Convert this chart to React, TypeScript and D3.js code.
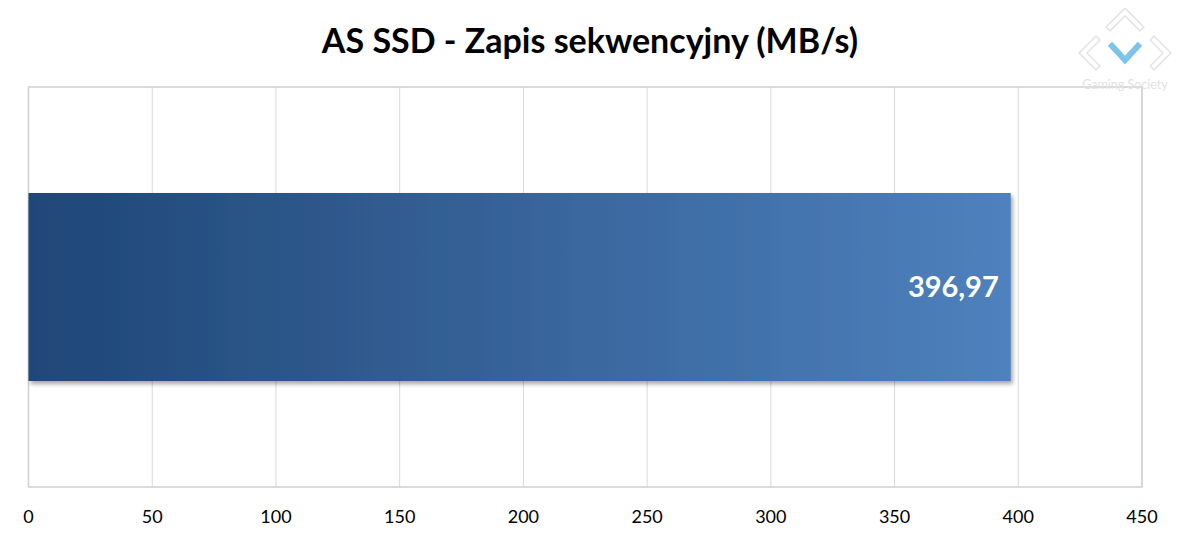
import React from 'react';
import * as d3 from 'd3';

// chart data
const title = 'AS SSD - Zapis sekwencyjny (MB/s)';
const categories = ['SSD'];
const values = [396.97];
const valueLabels = ['396,97'];
const ticks = [0, 50, 100, 150, 200, 250, 300, 350, 400, 450];

const W = 1182;
const H = 540;
const margin = { top: 87, right: 40, bottom: 53, left: 28.5 };

const App = () => {
  const x = d3.scaleLinear().domain([0, 450]).range([margin.left, W - margin.right]);
  const y = d3.scaleBand().domain(categories).range([margin.top, H - margin.bottom]).paddingInner(0.53).paddingOuter(0.265);
  const font = 'Lato, "Open Sans", sans-serif';

  // hollow chevrons in the logo: light outline, white fill
  const chevrons = [
    'M1110,27 L1125,12 L1140,27',
    'M1096,40 L1083,53 L1096,66',
    'M1154,40 L1167,53 L1154,66',
  ];

  return (
    <svg width={W} height={H} style={{ display: 'block', margin: -8 }}>
      <defs>
        <linearGradient id="barGrad" x1="0" x2="1" y1="0" y2="0">
          <stop offset="0%" stopColor="#1f4677" />
          <stop offset="100%" stopColor="#4f81bd" />
        </linearGradient>
        <filter id="shadow" x="-5%" y="-10%" width="110%" height="130%">
          <feDropShadow dx="2" dy="3" stdDeviation="2" floodColor="#000" floodOpacity="0.35" />
        </filter>
      </defs>
      <rect width={W} height={H} fill="#fff" />

      {/* title */}
      <text x={590} y={53} textAnchor="middle" fontFamily={font} fontWeight="bold" fontSize={34} fill="#000">
        {title}
      </text>

      {/* gridlines */}
      {ticks.map(t => (
        <line key={t} x1={x(t)} x2={x(t)} y1={margin.top} y2={H - margin.bottom} stroke="#d9d9d9" strokeWidth={1} />
      ))}
      {/* plot border */}
      <rect x={margin.left} y={margin.top} width={x(450) - margin.left} height={H - margin.bottom - margin.top}
        fill="none" stroke="#d0d0d0" strokeWidth={1.5} />

      {/* bars */}
      {categories.map((c, i) => (
        <g key={c}>
          <rect x={x(0)} y={y(c)} width={x(values[i]) - x(0)} height={y.bandwidth()} fill="url(#barGrad)" filter="url(#shadow)" />
          <text x={x(values[i]) - 12} y={(y(c) as number) + y.bandwidth() / 2} dy="0.35em" textAnchor="end"
            fontFamily={font} fontWeight="bold" fontSize={29} fill="#fff">
            {valueLabels[i]}
          </text>
        </g>
      ))}

      {/* x axis labels */}
      {ticks.map(t => (
        <text key={t} x={x(t)} y={523} textAnchor="middle" fontFamily={font} fontSize={18} fill="#000">
          {t}
        </text>
      ))}

      {/* logo */}
      <g fill="none" strokeLinecap="square" strokeLinejoin="miter">
        {chevrons.map(d => (
          <g key={d}>
            <path d={d} stroke="#e4e4e4" strokeWidth={7} />
            <path d={d} stroke="#ffffff" strokeWidth={4} />
          </g>
        ))}
        <path d="M1112,46 L1125,60 L1138,46" stroke="#7ec4ea" strokeWidth={6} />
        <text x={1125} y={89} textAnchor="middle" fontFamily={font} fontSize={12.5} fill="#e2e2e2" stroke="none">
          Gaming Society
        </text>
      </g>
    </svg>
  );
};

export default App;
